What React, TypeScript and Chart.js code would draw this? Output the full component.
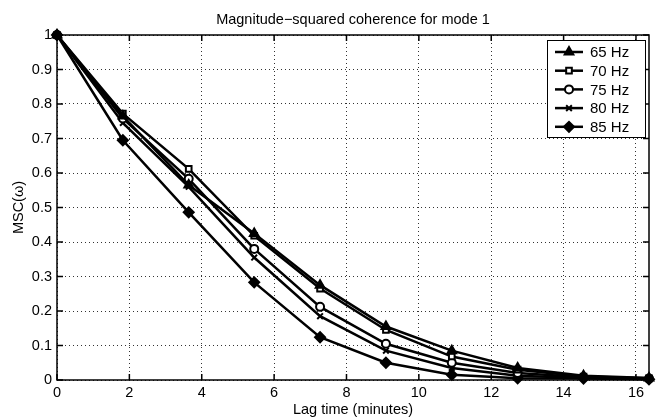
import { useEffect, useRef } from "react";
import { Chart, registerables } from "chart.js";
import { drawPoint } from "chart.js/helpers";

Chart.register(...registerables);

const titleText = "Magnitude\u2212squared coherence for mode 1";
const xTitle = "Lag time (minutes)";
const yTitle = "MSC(\u03c9)";

const lagTimes = [0, 1.82, 3.64, 5.45, 7.27, 9.09, 10.91, 12.73, 14.55, 16.36];
const seriesLabels = ["65 Hz", "70 Hz", "75 Hz", "80 Hz", "85 Hz"];
const msc65 = [1, 0.765, 0.565, 0.425, 0.275, 0.155, 0.085, 0.035, 0.012, 0.006];
const msc70 = [1, 0.772, 0.612, 0.418, 0.265, 0.145, 0.068, 0.03, 0.01, 0.005];
const msc75 = [1, 0.758, 0.583, 0.38, 0.212, 0.105, 0.05, 0.02, 0.008, 0.004];
const msc80 = [1, 0.745, 0.56, 0.355, 0.185, 0.085, 0.035, 0.012, 0.006, 0.003];
const msc85 = [1, 0.695, 0.486, 0.283, 0.124, 0.05, 0.015, 0.005, 0.004, 0.002];
const seriesValues = [msc65, msc70, msc75, msc80, msc85];

const xTickValues = [0, 2, 4, 6, 8, 10, 12, 14, 16];
const yTickValues = [0, 0.1, 0.2, 0.3, 0.4, 0.5, 0.6, 0.7, 0.8, 0.9, 1];
const xMax = 16.36;

const FONT = "'Liberation Sans', Arial, Helvetica, sans-serif";
const FS = 14.5;

const markerStyles = [
  { pointStyle: "triangle", radius: 5, bg: "#000" },
  { pointStyle: "rect", radius: 4, bg: "#fff" },
  { pointStyle: "circle", radius: 4, bg: "#fff" },
  { pointStyle: "crossRot", radius: 4, bg: "#000" },
  { pointStyle: "rectRot", radius: 5, bg: "#000" },
];

export default function App() {
  const ref = useRef<HTMLCanvasElement>(null);
  useEffect(() => {
    document.body.style.margin = "0";
    const canvas = ref.current!;
    const datasets = seriesValues.map((vals, i) => ({
      label: seriesLabels[i],
      data: lagTimes.map((x, j) => ({ x, y: vals[j] })),
      borderColor: "#000",
      borderWidth: 2.5,
      pointStyle: markerStyles[i].pointStyle,
      pointRadius: markerStyles[i].radius,
      pointBackgroundColor: markerStyles[i].bg,
      pointBorderColor: "#000",
      pointBorderWidth: 2,
      tension: 0,
      fill: false,
      clip: false as any,
    }));

    const boxPlugin = {
      id: "matlabBox",
      afterDraw(chart: any) {
        const { ctx, chartArea: a, scales } = chart;
        ctx.save();
        // title centred over the plot area
        ctx.fillStyle = "#000";
        ctx.font = `${FS}px ${FONT}`;
        ctx.textAlign = "center";
        ctx.textBaseline = "middle";
        ctx.fillText(titleText, (a.left + a.right) / 2, 20);

        ctx.strokeStyle = "#000";
        ctx.lineWidth = 1.5;
        ctx.strokeRect(a.left, a.top, a.right - a.left, a.bottom - a.top);
        const tl = 6;
        ctx.beginPath();
        xTickValues.forEach((v) => {
          const px = scales.x.getPixelForValue(v);
          ctx.moveTo(px, a.bottom);
          ctx.lineTo(px, a.bottom - tl);
          ctx.moveTo(px, a.top);
          ctx.lineTo(px, a.top + tl);
        });
        yTickValues.forEach((v) => {
          const py = scales.y.getPixelForValue(v);
          ctx.moveTo(a.left, py);
          ctx.lineTo(a.left + tl, py);
          ctx.moveTo(a.right, py);
          ctx.lineTo(a.right - tl, py);
        });
        ctx.stroke();

        // legend
        const w = 98;
        const h = 97;
        const left = a.right - 102;
        const top = a.top + 5;
        ctx.fillStyle = "#fff";
        ctx.fillRect(left, top, w, h);
        ctx.lineWidth = 1;
        ctx.strokeRect(left + 0.5, top + 0.5, w, h);
        ctx.font = `15px ${FONT}`;
        ctx.textBaseline = "middle";
        ctx.textAlign = "left";
        chart.data.datasets.forEach((ds: any, i: number) => {
          const y = top + 12 + i * 18.7;
          ctx.strokeStyle = "#000";
          ctx.lineWidth = 2.5;
          ctx.beginPath();
          ctx.moveTo(left + 8, y);
          ctx.lineTo(left + 36, y);
          ctx.stroke();
          ctx.fillStyle = ds.pointBackgroundColor;
          ctx.strokeStyle = "#000";
          ctx.lineWidth = 2;
          drawPoint(ctx, { pointStyle: ds.pointStyle, radius: ds.pointRadius, borderWidth: 2, rotation: 0 } as any, left + 22, y);
          ctx.fillStyle = "#000";
          ctx.fillText(ds.label, left + 43, y + 1);
        });
        ctx.restore();
      },
    };

    const chart = new Chart(canvas, {
      type: "line",
      data: { datasets },
      plugins: [boxPlugin],
      options: {
        animation: false,
        responsive: false,
        layout: { padding: { left: 0, right: 7, top: 35, bottom: 0 } },
        plugins: {
          legend: { display: false },
          tooltip: { enabled: false },
          title: { display: false },
        },
        scales: {
          x: {
            type: "linear",
            min: 0,
            max: xMax,
            afterBuildTicks: (s: any) => {
              s.ticks = xTickValues.map((v) => ({ value: v }));
            },
            afterFit: (s: any) => {
              s.height = 39;
            },
            ticks: {
              color: "#000",
              font: { family: FONT, size: FS },
              padding: 4,
              maxRotation: 0,
              autoSkip: false,
              callback: (v: any) => String(v),
            },
            grid: { color: "rgba(0,0,0,0.8)", lineWidth: 1, drawTicks: false },
            border: { display: false, dash: [1, 3] },
            title: {
              display: true,
              text: xTitle,
              color: "#000",
              font: { family: FONT, size: FS },
              padding: { top: 0, bottom: 0 },
            },
          },
          y: {
            type: "linear",
            min: 0,
            max: 1,
            afterBuildTicks: (s: any) => {
              s.ticks = yTickValues.map((v) => ({ value: v }));
            },
            afterFit: (s: any) => {
              s.width = 57;
            },
            ticks: {
              color: "#000",
              font: { family: FONT, size: FS },
              padding: 5,
              autoSkip: false,
              callback: (v: any) => (v === 0 ? "0" : v === 1 ? "1" : Number(v).toFixed(1)),
            },
            grid: { color: "rgba(0,0,0,0.8)", lineWidth: 1, drawTicks: false },
            border: { display: false, dash: [1, 3] },
            title: {
              display: true,
              text: yTitle,
              color: "#000",
              font: { family: FONT, size: FS },
              padding: { top: 10, bottom: 0 },
            },
          },
        },
      },
    } as any);
    return () => chart.destroy();
  }, []);
  return (
    <div style={{ position: "absolute", left: 0, top: 0, width: 656, height: 419, background: "#fff" }}>
      <canvas ref={ref} width={656} height={419} style={{ width: 656, height: 419, display: "block" }} />
    </div>
  );
}
